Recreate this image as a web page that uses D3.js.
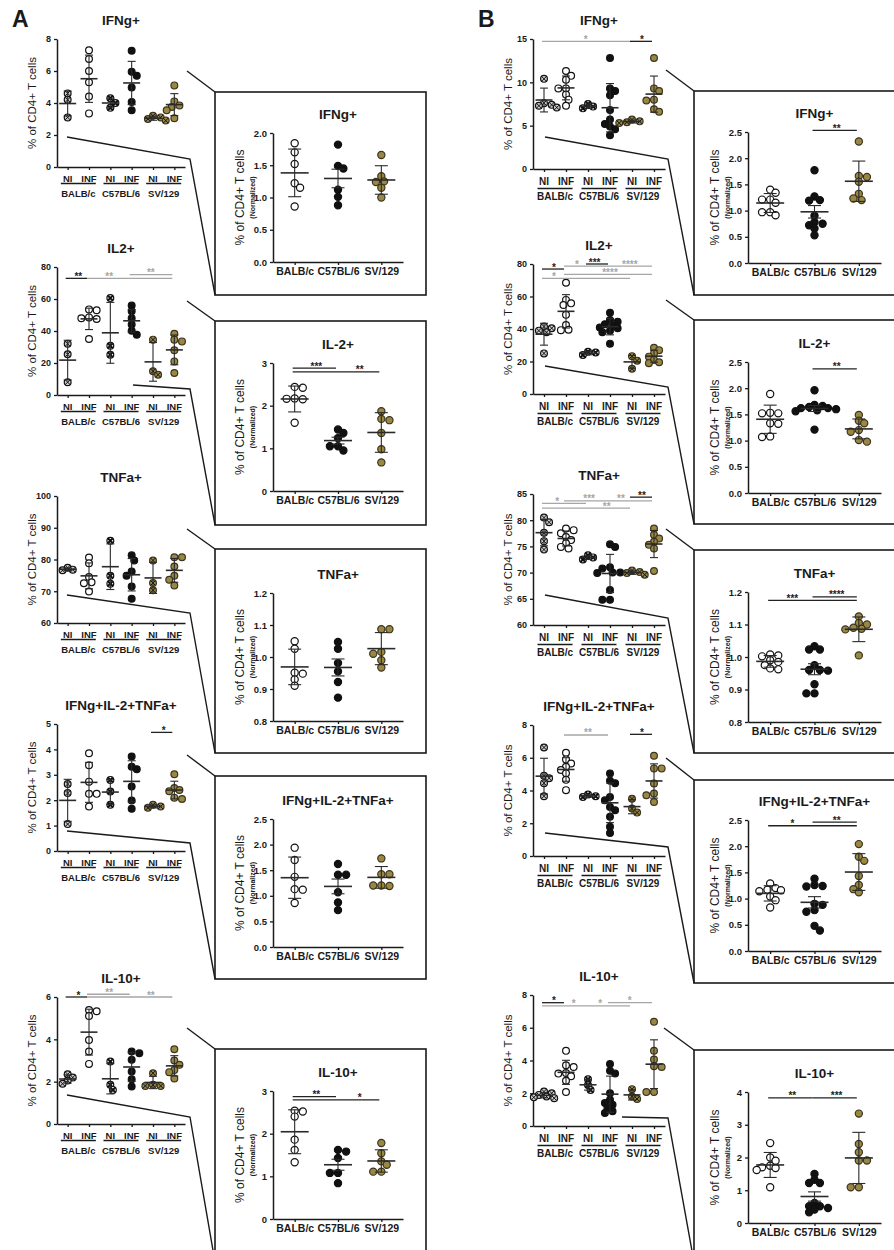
<!DOCTYPE html>
<html><head><meta charset="utf-8">
<script src="https://cdn.jsdelivr.net/npm/d3@7"></script>
<style>body{margin:0;background:#fff}svg{display:block}text{font-family:"Liberation Sans",Arial,sans-serif;fill:#1a1a1a}</style>
</head><body><svg id="c" width="894" height="1250"></svg>
<script>
// ---------------- DATA ----------------
const strains = ["BALB/c","C57BL/6","SV/129"];
const conditions = ["NI","INF","NI","INF","NI","INF"];
const titlesLeft = ["IFNg+","IL2+","TNFa+","IFNg+IL-2+TNFa+","IL-10+"];
const titlesRight = ["IFNg+","IL-2+","TNFa+","IFNg+IL-2+TNFa+","IL-10+"];
const yLabel = "% of CD4+ T cells";
const yLabelNorm = "(Normalized)";

// Panel A raw (% of CD4+ T cells), groups: BALB NI, BALB INF, C57 NI, C57 INF, SV NI, SV INF
const A_IFNg = [[4.6,4.2,3.1],[7.3,6.75,6.0,5.3,4.4,3.35],[4.3,4.0,3.7],[7.27,5.95,5.7,4.97,4.07,3.55],[3.2,3.1,3.0,2.9],[5.1,4.1,3.85,3.75,3.55,3.05]];
const A_IL2 = [[32,25.4,8],[53.5,53,48,47.5,48.5,35],[60.6,30.8,25.2],[56,52.3,48,44,40.2,37.7],[34.6,14.8,12.7],[38.3,34.6,33.5,28,21,13.75]];
const A_TNF = [[77.4,76.8,76.6],[80.6,78.8,74.5,72.8,72.5,69.9],[85.9,74.9,72.4],[81.3,79.7,76.2,74.9,71.5,67.6],[79.7,72.6,70.3],[80.7,80.7,77.8,74.9,73.6,71.8]];
const A_TRIPLE = [[2.64,2.28,1.06],[3.85,3.38,2.73,2.25,2.25,1.75],[2.8,2.34,1.82],[3.72,3.32,3.22,2.54,1.99,1.66],[1.82,1.75,1.7],[3.02,2.48,2.4,2.35,2.1,2.05]];
const A_IL10 = [[2.35,2.2,2.05,1.9],[5.38,5.33,5.1,3.97,3.42,2.84],[2.95,1.85,1.61],[3.42,3.34,3.03,2.48,2.12,1.77],[2.4,1.85,1.8,1.8],[3.53,3.0,2.8,2.55,2.45,2.15]];
// Panel A normalized, groups: BALB/c, C57BL/6, SV/129
const A_IFNg_N = [[1.84,1.70,1.52,1.22,1.15,0.86],[1.82,1.49,1.45,1.12,1.01,0.88],[1.66,1.33,1.25,1.24,1.15,1.0]];
const A_IL2_N = [[2.44,2.42,2.17,2.15,2.16,1.6],[1.44,1.36,1.24,1.05,1.05,0.95],[1.87,1.69,1.66,1.36,0.98,0.67]];
const A_TNF_N = [[1.049,1.026,0.951,0.948,0.93,0.91],[1.047,1.026,0.981,0.955,0.922,0.873],[1.087,1.087,1.016,1.01,0.99,0.967]];
const A_TRIPLE_N = [[1.94,1.70,1.37,1.13,1.12,0.86],[1.62,1.41,1.41,1.07,0.87,0.72],[1.73,1.42,1.42,1.2,1.19,1.2]];
const A_IL10_N = [[2.54,2.52,2.4,1.86,1.62,1.33],[1.62,1.58,1.43,1.08,1.08,0.84],[1.78,1.54,1.35,1.27,1.11,1.11]];

// Panel B raw
const B_IFNg = [[10.4,7.6,7.4,7.3,7.1],[11.3,10.75,10.3,9.3,9.3,8.6,8.0,7.3],[7.5,7.2,7.0],[12.8,9.3,9.0,8.5,6.8,5.7,5.2,4.9,4.6,3.9],[5.7,5.5,5.4,5.3],[12.8,9.3,9.0,8.0,7.9,6.9,6.6]];
const B_IL2 = [[41.5,40.5,39,38,25],[68.5,57.9,55.8,54.8,48.7,42.5,39.5,39.3],[26,25.5,24],[50,45.5,44.5,43,42,41,40.5,39,38,31],[23.3,20.5,15.5],[28.5,27,25,23,21,19.5,19]];
const B_TNF = [[80.5,79.6,77.6,76.0,74.4],[78.4,78.1,77.5,76.8,76.2,75.6,74.9,74.6],[73.3,72.9,72.5],[75.4,74.9,71.0,70.8,70.0,70.0,69.9,66.7,64.8,64.8],[70.4,70.1,69.9,69.6],[78.4,77.2,76.5,75.9,75.3,74.6,70.3]];
const B_TRIPLE = [[6.63,4.9,4.75,4.45,3.65],[6.3,5.9,5.65,5.45,5.25,5.05,4.65,4.02],[3.75,3.65,3.6],[5.04,4.6,4.45,3.6,3.4,3.0,2.8,2.4,1.78,1.41],[3.5,2.9,2.65],[6.12,5.35,5.35,4.43,3.82,3.71,3.3]];
const B_IL10 = [[2.1,2.0,1.9,1.8,1.75,1.7],[4.59,3.71,3.6,3.24,3.2,3.04,2.76,2.08],[2.85,2.5,2.2],[3.78,3.37,3.2,2.0,1.6,1.4,1.3,1.1,0.9,0.8],[2.25,1.8,1.65],[6.37,4.59,4.06,3.65,3.6,2.08,2.08]];
// Panel B normalized
const B_IFNg_N = [[1.40,1.34,1.21,1.21,1.15,0.97,0.97,0.91],[1.77,1.27,1.2,1.19,0.9,0.78,0.75,0.72,0.66,0.53],[2.32,1.66,1.64,1.55,1.32,1.23,1.2]];
const B_IL2_N = [[1.89,1.53,1.52,1.52,1.33,1.32,1.08,1.07],[1.96,1.68,1.66,1.64,1.62,1.62,1.6,1.58,1.56,1.21],[1.49,1.38,1.33,1.2,1.17,1.01,0.98]];
const B_TNF_N = [[1.008,1.005,1.002,0.99,0.985,0.975,0.965,0.962],[1.033,1.023,1.023,0.975,0.96,0.96,0.958,0.916,0.888,0.888],[1.125,1.105,1.1,1.09,1.087,1.085,1.005]];
const B_TRIPLE_N = [[1.29,1.2,1.17,1.16,1.14,1.04,0.97,0.83],[1.38,1.26,1.24,1.23,0.9,0.88,0.78,0.75,0.48,0.39],[2.04,1.8,1.72,1.43,1.26,1.18,1.12]];
const B_IL10_N = [[2.44,2.0,1.9,1.75,1.7,1.68,1.62,1.09],[1.5,1.32,1.22,1.22,0.61,0.51,0.51,0.46,0.41,0.33],[3.34,2.41,2.16,1.91,1.91,1.09,1.09]];

// tick values
const ticksA = [[0,2,4,6,8],[0,20,40,60,80],[60,70,80,90,100],[0,1,2,3,4,5],[0,2,4,6]];
const ticksAN = [[0,0.5,1,1.5,2],[0,1,2,3],[0.8,0.9,1.0,1.1,1.2],[0,0.5,1,1.5,2,2.5],[0,1,2,3]];
const ticksB = [[0,5,10,15],[0,20,40,60,80],[60,65,70,75,80,85],[0,2,4,6,8],[0,2,4,6,8]];
const ticksBN = [[0,0.5,1,1.5,2,2.5],[0,0.5,1,1.5,2,2.5],[0.8,0.9,1.0,1.1,1.2],[0,0.5,1,1.5,2,2.5],[0,1,2,3,4]];

// significance: [fromGroup, toGroup, yValue, label, colour(k/g), labelPosition]
const sigA = [[],
 [[0,1,72.9,"**","k",0.5],[1,5,72.9,"**","g",1.95],[3,5,75.2,"**","g",3.9]],
 [],
 [[4,5,4.67,"*","k",4.5]],
 [[0,1,6.0,"*","k",0.5],[1,3,6.13,"**","g",1.95],[1,5,6.0,"**","g",3.9]]];
const sigAN = [[],[[0,1,2.88,"***","k",0.5],[0,2,2.79,"**","k",1.5]],[],[],[[0,1,2.87,"**","k",0.5],[0,2,2.79,"*","k",1.5]]];
const sigB = [
 [[0,4,14.73,"*","g",1.9],[4,5,14.73,"*","k",4.45]],
 [[0,1,76.9,"*","k",0.45],[1,3,78.7,"*","g",1.5],[2,3,80.0,"***","k",2.3],[3,5,78.7,"****","g",3.9],[1,5,73.6,"****","g",3.0],[0,4,71.2,"*","g",0.45]],
 [[0,2,83.2,"*","g",0.6],[1,3,83.7,"***","g",2.05],[3,5,83.7,"**","g",3.5],[4,5,84.4,"**","k",4.45],[0,4,82.3,"**","g",2.85]],
 [[1,3,7.39,"**","g",2],[4,5,7.43,"*","k",4.45]],
 [[0,1,7.53,"*","k",0.45],[0,2,7.33,"*","g",1.35],[2,4,7.33,"*","g",2.55],[3,5,7.53,"*","g",3.9]]];
const sigBN = [[[1,2,2.53,"**","k",1.5]],[[1,2,2.37,"**","k",1.5]],[[0,2,1.174,"***","k",0.5],[1,2,1.185,"****","k",1.5]],[[0,2,2.39,"*","k",0.5],[1,2,2.46,"**","k",1.5]],[[0,1,3.82,"**","k",0.5],[1,2,3.82,"***","k",1.5]]];

// ---------------- LAYOUT ----------------
const OLIVE = "#9a8842";
const GRAY = "#a6a6a6";
const layout = {
  A: { letterX: 12, leftAxis: [57,185], rows: [[39,167],[267,395],[496,623],[724,851],[997,1124]],
       rightAxis: [273,403], rrows: [[133,262],[363,491],[593,721],[819,947],[1091,1219]],
       box: [215,426], boxes: [[92,295],[321,525],[549,753],[776,979],[1049,1262]],
       upper: [[187,71],[187,301],[187,529],[187,755],[187,1028]],
       lower: [[[67,137],[190,159]],[[133,385],[190,389]],[[67,595],[190,613]],[[67,831],[190,843]],[[67,1095],[190,1117]]],
       lab: [14.5,16.5,29.5], font: 9.5 },
  B: { letterX: 478, leftAxis: [533,665], rows: [[39,169],[264,394],[494,625],[725,856],[995,1126]],
       rightAxis: [748,881], rrows: [[132,263],[362,493],[592,722],[820,951],[1092,1223]],
       box: [694,910], boxes: [[91,295],[320,524],[550,753],[780,983],[1050,1262]],
       upper: [[666,70],[666,300],[666,529],[666,758],[664,1028]],
       lower: [[[545,137],[668,159]],[[545,366],[668,387]],[[545,595],[668,618]],[[545,833],[668,847]],[[622,1117],[668,1118]]],
       lab: [15.5,19.5,31], font: 10 }
};

const svg = d3.select("#c");

function fmtFor(ticks){ return ticks.some(t=>Math.abs(t-Math.round(t))>1e-9) ? d3.format(".1f") : d3.format("d"); }

function drawMarker(g, cx, cy, r, style){
  const fill = {niB:"#c9c9c9", open:"#fff", niC:"#fff", black:"#111", niS:OLIVE, olive:OLIVE}[style];
  const stroke = (style==="olive"||style==="niS") ? "#3b3420" : "#111";
  g.append("circle").attr("cx",cx).attr("cy",cy).attr("r",r).attr("fill",fill).attr("stroke",stroke).attr("stroke-width",1.2);
  if (style.startsWith("ni")) {
    const k = r*0.72;
    g.append("path").attr("d",`M${cx-k},${cy-k}L${cx+k},${cy+k}M${cx-k},${cy+k}L${cx+k},${cy-k}`)
      .attr("stroke","#111").attr("stroke-width", style==="niC"?2:1);
  }
}

function swarm(vals, y, r){
  const pts = vals.map(v=>({v, py:y(v), dx:0}));
  const order = pts.slice().sort((a,b)=>a.py-b.py);
  const placed = [];
  const minD = 2*r*0.8;
  let flip = 1;
  for (const p of order){
    const cands=[0];
    for (let k=1;k<14;k++){ cands.push(flip*k*r*0.75, -flip*k*r*0.75); }
    for (const dx of cands){
      if (placed.every(q=>Math.hypot(q.dx-dx, q.py-p.py) >= minD)){ p.dx = dx; break; }
    }
    if (p.dx!==0) flip = -flip;
    placed.push(p);
  }
  return pts;
}

function drawGroups(g, groups, x, y, opts){
  groups.forEach((vals,i)=>{
    const cx = x(i);
    const pts = swarm(vals, y, opts.r);
    const pg = g.append("g");
    pts.forEach(p=>drawMarker(pg, cx+p.dx, p.py, opts.r, opts.styles[i]));
    const m = d3.mean(vals);
    let e = d3.deviation(vals);
    if (opts.err[i]==="sem") e = e/Math.sqrt(vals.length);
    const eg = g.append("g").attr("stroke","#2a2a2a").attr("fill","none");
    eg.append("line").attr("x1",cx).attr("x2",cx).attr("y1",y(m-e)).attr("y2",y(m+e)).attr("stroke-width",1.1);
    [m-e, m+e].forEach(v=>eg.append("line").attr("x1",cx-opts.capW/2).attr("x2",cx+opts.capW/2).attr("y1",y(v)).attr("y2",y(v)).attr("stroke-width",1.1));
    eg.append("line").attr("x1",cx-opts.meanW/2).attr("x2",cx+opts.meanW/2).attr("y1",y(m)).attr("y2",y(m)).attr("stroke-width",1.6);
  });
}

function drawSig(g, sigs, x, y){
  sigs.forEach(([i,j,v,lab,c,lp])=>{
    const col = c==="k" ? "#222" : GRAY;
    const yy = y(v);
    g.append("line").attr("x1",x(i)-2).attr("x2",x(j)-2).attr("y1",yy).attr("y2",yy).attr("stroke",col).attr("stroke-width",1.3);
    const f = Math.floor(lp);
    const lx = x(f) + (x(Math.min(f+1, x.domain().length-1)) - x(f))*(lp-f);
    g.append("text").attr("x",lx).attr("y",yy+1.5).attr("text-anchor","middle").attr("font-size",10).attr("font-weight","bold").style("fill",col).text(lab);
  });
}

function styleAxis(sel, fs){
  sel.select(".domain").attr("stroke","#1a1a1a").attr("stroke-width",1.5);
  sel.selectAll(".tick line").attr("stroke","#1a1a1a").attr("stroke-width",1.3);
  sel.selectAll(".tick text").attr("font-size",fs).attr("font-weight","bold").style("fill","#1a1a1a").attr("font-family","Liberation Sans, Arial, sans-serif");
}

function drawLeft(col, row, data, ticks, sigs){
  const L = layout[col];
  const [top,bottom] = L.rows[row];
  const y = d3.scaleLinear().domain([ticks[0], ticks[ticks.length-1]]).range([bottom, top]);
  const x = d3.scalePoint().domain(d3.range(6)).range(L.leftAxis).padding(0.5);
  const g = svg.append("g");
  const ax = g.append("g").attr("transform",`translate(${L.leftAxis[0]},0)`)
    .call(d3.axisLeft(y).tickValues(ticks).tickSize(3).tickSizeOuter(0).tickPadding(3).tickFormat(fmtFor(ticks)));
  styleAxis(ax, 9);
  const bx = g.append("g").attr("transform",`translate(0,${bottom})`)
    .call(d3.axisBottom(x).tickSize(3).tickSizeOuter(0).tickFormat(()=>"" ));
  styleAxis(bx, 9);
  x.domain().forEach(i=>{
    g.append("text").attr("x",x(i)).attr("y",bottom+L.lab[0]).attr("text-anchor","middle")
      .attr("font-size",L.font).attr("font-weight","bold").text(conditions[i]);
  });
  strains.forEach((s,k)=>{
    const c = (x(2*k)+x(2*k+1))/2;
    g.append("line").attr("x1",c-17.5).attr("x2",c+17.5).attr("y1",bottom+L.lab[1]).attr("y2",bottom+L.lab[1]).attr("stroke","#1a1a1a").attr("stroke-width",1.5);
    g.append("text").attr("x",c).attr("y",bottom+L.lab[2]).attr("text-anchor","middle").attr("font-size",L.font).attr("font-weight","bold").text(s);
  });
  g.append("text").attr("x",(x(0)+x(5))/2).attr("y",top-14.5).attr("text-anchor","middle").attr("font-size",13.5).attr("font-weight","bold").text(titlesLeft[row]);
  g.append("text").attr("transform",`translate(${L.leftAxis[0]-25},${(top+bottom)/2}) rotate(-90)`)
    .attr("text-anchor","middle").attr("dominant-baseline","central").attr("font-size",11.5).text(yLabel);
  drawGroups(g, data, x, y, {r:3.4, meanW:17, capW:8, styles:["niB","open","niC","black","niS","olive"], err:["sd","sd","sd","sd","sd","sd"]});
  drawSig(g, sigs, x, y);
}

function drawRight(col, row, data, ticks, sigs){
  const L = layout[col];
  const [top,bottom] = L.rrows[row];
  const y = d3.scaleLinear().domain([ticks[0], ticks[ticks.length-1]]).range([bottom, top]);
  const x = d3.scalePoint().domain(d3.range(3)).range(L.rightAxis).padding(0.5);
  const g = svg.append("g");
  const ax = g.append("g").attr("transform",`translate(${L.rightAxis[0]},0)`)
    .call(d3.axisLeft(y).tickValues(ticks).tickSize(3).tickSizeOuter(0).tickPadding(3).tickFormat(fmtFor(ticks)));
  styleAxis(ax, 9.5);
  const bx = g.append("g").attr("transform",`translate(0,${bottom})`)
    .call(d3.axisBottom(x).tickSize(3).tickSizeOuter(0).tickPadding(3).tickFormat(i=>strains[i]));
  styleAxis(bx, 10.5);
  g.append("text").attr("x",x(1)).attr("y",top-14.5).attr("text-anchor","middle").attr("font-size",13.5).attr("font-weight","bold").text(titlesRight[row]);
  g.append("text").attr("transform",`translate(${L.rightAxis[0]-33},${(top+bottom)/2}) rotate(-90)`)
    .attr("text-anchor","middle").attr("dominant-baseline","central").attr("font-size",12).text(yLabel);
  g.append("text").attr("transform",`translate(${L.rightAxis[0]-20.5},${(top+bottom)/2}) rotate(-90)`)
    .attr("text-anchor","middle").attr("dominant-baseline","central").attr("font-size",7).attr("font-weight","bold").text(yLabelNorm);
  drawGroups(g, data, x, y, {r:3.6, meanW:28, capW:13, styles:["open","black","olive"], err:["sd","sem","sd"]});
  drawSig(g, sigs, x, y);
}

function drawZoom(col, row){
  const L = layout[col];
  const [bt,bb] = L.boxes[row];
  svg.append("rect").attr("x",L.box[0]).attr("y",bt).attr("width",L.box[1]-L.box[0]).attr("height",bb-bt)
    .attr("fill","none").attr("stroke","#1a1a1a").attr("stroke-width",1.6);
  const up = L.upper[row];
  const lo = L.lower[row];
  const line = d3.line();
  svg.append("path").attr("d", line([up,[L.box[0],bt]])).attr("fill","none").attr("stroke","#1a1a1a").attr("stroke-width",1.4);
  svg.append("path").attr("d", line([lo[0],lo[1],[L.box[0],bb]])).attr("fill","none").attr("stroke","#1a1a1a").attr("stroke-width",1.4);
}

const rawA = [A_IFNg,A_IL2,A_TNF,A_TRIPLE,A_IL10];
const normA = [A_IFNg_N,A_IL2_N,A_TNF_N,A_TRIPLE_N,A_IL10_N];
const rawB = [B_IFNg,B_IL2,B_TNF,B_TRIPLE,B_IL10];
const normB = [B_IFNg_N,B_IL2_N,B_TNF_N,B_TRIPLE_N,B_IL10_N];

for (let r=0;r<5;r++){
  drawZoom("A", r); drawZoom("B", r);
  drawLeft("A", r, rawA[r], ticksA[r], sigA[r]);
  drawRight("A", r, normA[r], ticksAN[r], sigAN[r]);
  drawLeft("B", r, rawB[r], ticksB[r], sigB[r]);
  drawRight("B", r, normB[r], ticksBN[r], sigBN[r]);
}
svg.append("text").attr("x",layout.A.letterX).attr("y",27).attr("font-size",23).attr("font-weight","bold").text("A");
svg.append("text").attr("x",layout.B.letterX).attr("y",27).attr("font-size",23).attr("font-weight","bold").text("B");
</script></body></html>
